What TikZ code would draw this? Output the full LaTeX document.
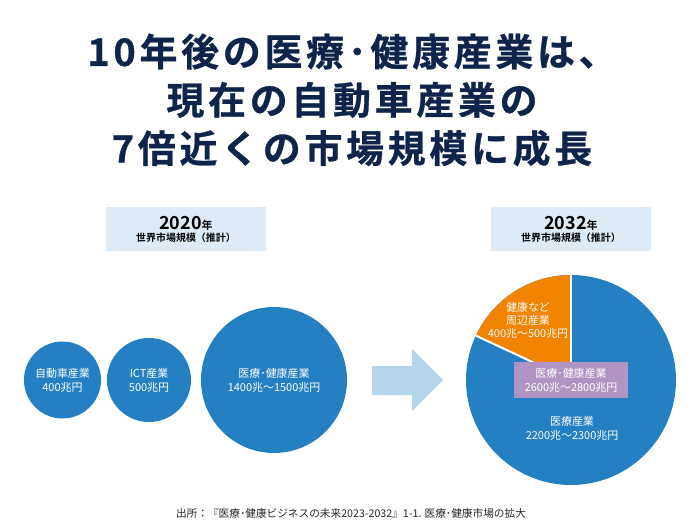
\documentclass[tikz,border=0pt]{standalone}
\usepackage{fontspec}
\setmainfont{Noto Sans CJK JP}[BoldFont={Noto Sans CJK JP Bold}]
\usepackage{tikz}
\usetikzlibrary{positioning,calc}
\usepackage{xcolor}
\definecolor{titlenavy}{RGB}{14,36,74}
\definecolor{bubbleblue}{RGB}{37,128,195}
\definecolor{boxblue}{RGB}{220,235,245}
\definecolor{arrowblue}{RGB}{179,212,234}
\definecolor{pieorange}{RGB}{240,131,0}
\definecolor{lavender}{RGB}{176,148,196}
\definecolor{notegray}{RGB}{40,40,40}

\tikzset{
  bubble/.style={circle,fill=bubbleblue,inner sep=0pt,text=white,align=center,
    font=\fontsize{11}{14}\selectfont},
  yearbox/.style={rectangle,fill=boxblue,minimum width=160bp,minimum height=44bp,
    inner sep=0pt,align=center,text=black},
  pietext/.style={text=white,align=center,font=\fontsize{11}{14}\selectfont}
}

\begin{document}
\begin{tikzpicture}[x=1bp,y=-1bp]
            \useasboundingbox[fill=white] (0,0) rectangle (696,530);

            % title
            \node[text=titlenavy,align=center,
                font=\fontsize{38}{48.5}\selectfont\bfseries\addfontfeature{LetterSpace=10,FakeBold=0.8}] (title) at (352,100) {
                10年後の医療･健康産業は、\\
                現在の自動車産業の\\
                7倍近くの市場規模に成長
            };

            % 2020
            \node[yearbox] (y2020) at (186,229) {
                {\fontsize{18}{20}\selectfont\bfseries 2020}{\fontsize{11}{12}\selectfont\bfseries 年}\\
                {\fontsize{10}{13}\selectfont\bfseries 世界市場規模（推計）}
            };
            \node[bubble,minimum size=77bp] (car) at (62.5,380) {自動車産業\\400兆円};
            \node[bubble,minimum size=84bp] (ict) at (149,380) {ICT産業\\500兆円};
            \node[bubble,minimum size=146bp] (med) at (274,380) {医療･健康産業\\1400兆〜1500兆円};

            % arrow
            \fill[arrowblue] (372,366) -- (412,366) -- (412,349) -- (443,380)
                -- (412,411) -- (412,395) -- (372,395) -- cycle;

            % 2032
            \node[yearbox] (y2032) at (571,229) {
                {\fontsize{18}{20}\selectfont\bfseries 2032}{\fontsize{11}{12}\selectfont\bfseries 年}\\
                {\fontsize{10}{13}\selectfont\bfseries 世界市場規模（推計）}
            };
            \coordinate (pie) at (571,380);
            \fill[bubbleblue] (pie) circle[radius=105];
            \fill[pieorange] (pie) -- ++(-90:105) arc[start angle=-90,end angle=-155,radius=105] -- cycle;
            \draw[white,line width=2bp] (pie) -- ++(-90:105);
            \draw[white,line width=2bp] (pie) -- ++(-155:105);
            \node[pietext,font=\fontsize{11}{13}\selectfont] (rest) at (528,320) {健康など\\周辺産業\\400兆〜500兆円};
            \node[pietext,fill=lavender,minimum width=114bp,minimum height=36bp,inner sep=0pt] (total) at (571,380) {
                医療･健康産業\\2600兆〜2800兆円
            };
            \node[pietext] (care) at (572,428) {医療産業\\2200兆〜2300兆円};

            % source
            \node[text=notegray,font=\fontsize{10.7}{12}\selectfont] (source) at (351,513) {
                出所：『医療･健康ビジネスの未来2023-2032』1-1. 医療･健康市場の拡大
            };
        \end{tikzpicture}
\end{document}
